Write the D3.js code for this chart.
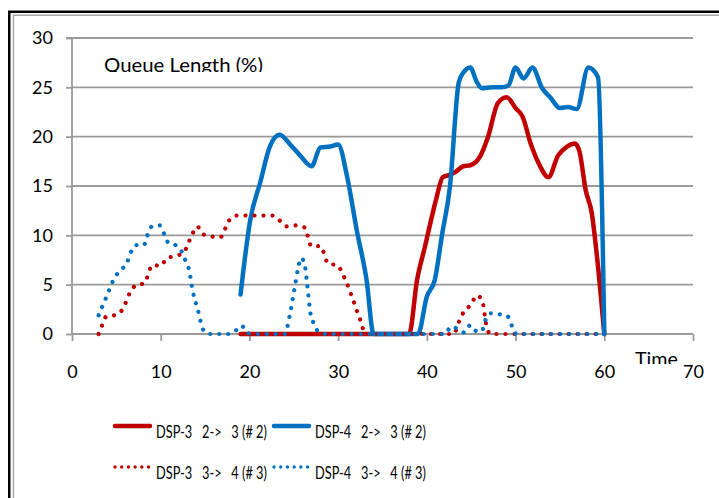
<!DOCTYPE html>
<html><head><meta charset="utf-8">
<script src="https://cdn.jsdelivr.net/npm/d3@7"></script>
<style>
html,body{margin:0;padding:0;background:#fff;}
svg{display:block;font-family:Lato,"Open Sans",sans-serif;}
</style></head>
<body><svg id="c" width="719" height="498"></svg>
<script>
// ---- data ----
const xTicks = [0,10,20,30,40,50,60,70];
const yTicks = [0,5,10,15,20,25,30];
const seriesNames = ["DSP-3   2->   3 (# 2)","DSP-4   2->   3 (# 2)","DSP-3   3->   4 (# 3)","DSP-4   3->   4 (# 3)"];
const seriesColors = ["#C00000","#0070C0","#C00000","#0070C0"];
const seriesDotted = [false,false,true,true];
const dsp3_2to3 = [[19,0],[38,0],[38.9,5.5],[39.8,8.9],[41,13.5],[41.8,15.9],[42.5,16.1],[43.2,16.4],[44.1,17],[44.9,17.1],[46,18],[46.9,20],[48,23.4],[49,24],[50,22.9],[50.8,22],[51.7,19.3],[52.6,17.3],[53.7,15.9],[54.8,18.1],[55.8,19],[56.7,19.3],[57.2,18.5],[57.9,14.6],[58.6,12.2],[59.1,8.5],[60,0]];
const dsp4_2to3 = [[19,4],[20.1,11.6],[21.2,15.3],[22.3,19],[23.4,20.2],[24.6,19.2],[25.7,18.1],[27,17],[28,18.9],[29.1,19],[30,19.2],[31,16],[32.1,10.5],[33.2,5.5],[34,0],[39,0],[40,3.8],[40.9,5.5],[41.7,10],[42.6,14.9],[43.6,25.5],[44.2,26.6],[44.9,27],[45.6,25.6],[46.2,24.9],[47.3,25],[48.4,25],[49.2,25.2],[50,27],[50.9,25.9],[51.9,27],[53,24.9],[53.9,24],[55,22.9],[55.9,23],[56.9,22.8],[58.2,27],[59.3,26],[60,0]];
const dsp3_3to4 = [[3,0],[3.4,0.9],[3.9,1.8],[4.8,1.9],[5.7,2.5],[6.6,4.3],[7.3,5.0],[8.1,5.1],[9.1,7.0],[10.0,6.9],[10.7,7.7],[11.7,7.9],[12.6,8.3],[13.6,10.2],[14.1,10.9],[14.8,10.1],[15.7,9.9],[16.7,9.8],[17.7,11.5],[18.5,12.0],[22.6,12],[23.4,11.5],[24.2,10.9],[25.2,11],[26.2,10.8],[27.0,8.9],[28.0,8.9],[28.9,7.1],[29.8,7.0],[30.9,5.3],[31.7,3.4],[32.5,1.4],[33.1,0],[43,0],[43.7,1.4],[44.2,2.3],[45.0,3.0],[45.6,3.9],[46.2,3.5],[46.8,0.5],[47.2,0],[60,0]];
const dsp4_3to4 = [[3,1.9],[3.9,3.8],[4.8,5.7],[5.5,6.5],[6.2,7.2],[6.6,8.2],[7.2,9.0],[8.1,9.0],[8.5,10],[9.0,10.9],[9.9,11],[10.4,10.1],[10.9,9.2],[11.7,9.0],[12.4,8.3],[12.8,7.4],[13.2,6.5],[13.6,4.4],[14.2,2.4],[14.8,0.4],[15.5,0],[17.6,0],[18.4,0.3],[19.1,0.85],[19.8,0.1],[20.3,0],[24,0],[24.5,1.7],[25.1,4.7],[25.5,6.7],[25.8,7.7],[26.2,7.2],[26.5,5.1],[26.9,2.0],[27.3,1.0],[27.8,0.2],[28.6,0],[42.1,0],[42.7,0.75],[43.5,0.5],[44.2,0.15],[44.9,0.9],[45.6,0.3],[46.2,0.3],[46.6,1.4],[47.2,2.1],[48.2,2.0],[49.1,1.8],[49.6,0.8],[50.1,0],[60,0]];
const seriesData = [dsp3_2to3,dsp4_2to3,dsp3_3to4,dsp4_3to4];
const yTitle = "Queue Length (%)";
const xTitle = "Time";

// ---- drawing ----
const svg = d3.select("#c");
const x = d3.scaleLinear().domain([0,70]).range([72,693]);
const y = d3.scaleLinear().domain([0,30]).range([334,38]);

// horizontally condensed text (reference uses a narrow face)
function condensedText(parent, tx, ty, size, target, str){
  const t = parent.append("text").attr("font-size",size).style("white-space","pre").attr("fill","#000").text(str);
  const w = t.node().getComputedTextLength() || target;
  t.attr("transform",`translate(${tx},${ty}) scale(${target/w},1)`);
  return t;
}

// frame
svg.append("rect").attr("x",9.25).attr("y",11.75).attr("width",900).attr("height",700)
  .attr("fill","none").attr("stroke","#000").attr("stroke-width",2.5);
svg.append("rect").attr("x",13.5).attr("y",15.2).attr("width",900).attr("height",700)
  .attr("fill","none").attr("stroke","#a6a6a6").attr("stroke-width",1.5);

const gridColor = "#9a9a9a";
// gridlines
svg.append("g").selectAll("line").data(yTicks.filter(d=>d>0)).join("line")
  .attr("x1",x(0)).attr("x2",x(70)).attr("y1",d=>y(d)).attr("y2",d=>y(d))
  .attr("stroke",gridColor).attr("stroke-width",1.8);

// y axis
const ya = svg.append("g").attr("transform",`translate(${x(0)},0)`)
  .call(d3.axisLeft(y).tickValues(yTicks).tickSize(6).tickPadding(13));
ya.select(".domain").attr("stroke",gridColor).attr("stroke-width",1.8).attr("d",`M-6,${y(30)}H0V${y(0)}`);
ya.selectAll(".tick line").attr("stroke",gridColor).attr("stroke-width",1.8);
ya.selectAll(".tick text").attr("font-size",18).attr("fill","#000").attr("font-family","Lato");

// x axis
const xa = svg.append("g").attr("transform",`translate(0,${y(0)})`)
  .call(d3.axisBottom(x).tickValues(xTicks).tickSize(7).tickPadding(24));
xa.select(".domain").attr("stroke",gridColor).attr("stroke-width",1.8).attr("d",`M${x(0)},0H${x(70)}`);
xa.selectAll(".tick line").attr("stroke",gridColor).attr("stroke-width",1.8);
xa.selectAll(".tick text").attr("font-size",18).attr("fill","#000").attr("font-family","Lato");

// series
const line = d3.line().x(d=>x(d[0])).y(d=>y(d[1])).curve(d3.curveMonotoneX);
seriesData.forEach((data,i)=>{
  const p = svg.append("path").datum(data).attr("d",line).attr("fill","none")
    .attr("stroke",seriesColors[i]).attr("stroke-linejoin","round").attr("stroke-linecap","round");
  if(seriesDotted[i]) p.attr("stroke-width",4.2).attr("stroke-dasharray","0.01 9");
  else p.attr("stroke-width",4.5);
});

// titles (clipped at bottom as in reference)
const defs = svg.append("defs");
defs.append("clipPath").attr("id","clipQ").append("rect").attr("x",90).attr("y",40).attr("width",200).attr("height",32);
defs.append("clipPath").attr("id","clipT").append("rect").attr("x",620).attr("y",335).attr("width",80).attr("height",29);
const gq = svg.append("g").attr("clip-path","url(#clipQ)");
condensedText(gq,104,72,19,159,yTitle);
const gt = svg.append("g").attr("clip-path","url(#clipT)");
condensedText(gt,635,366,19,43,xTitle);

// legend
const legPos = [[114,426],[273,426],[114,467],[273,467]];
seriesNames.forEach((name,i)=>{
  const [lx,ly] = legPos[i];
  const g = svg.append("g");
  if(seriesDotted[i]){
    g.append("line").attr("x1",lx+1).attr("x2",lx+36).attr("y1",ly).attr("y2",ly)
      .attr("stroke",seriesColors[i]).attr("stroke-width",3.4).attr("stroke-linecap","round").attr("stroke-dasharray","0.01 6.7");
  } else {
    g.append("line").attr("x1",lx+1).attr("x2",lx+36).attr("y1",ly).attr("y2",ly)
      .attr("stroke",seriesColors[i]).attr("stroke-width",4.5).attr("stroke-linecap","round");
  }
  condensedText(g, lx+42, ly+11.5, 17.5, 111, name);
});
</script></body></html>
